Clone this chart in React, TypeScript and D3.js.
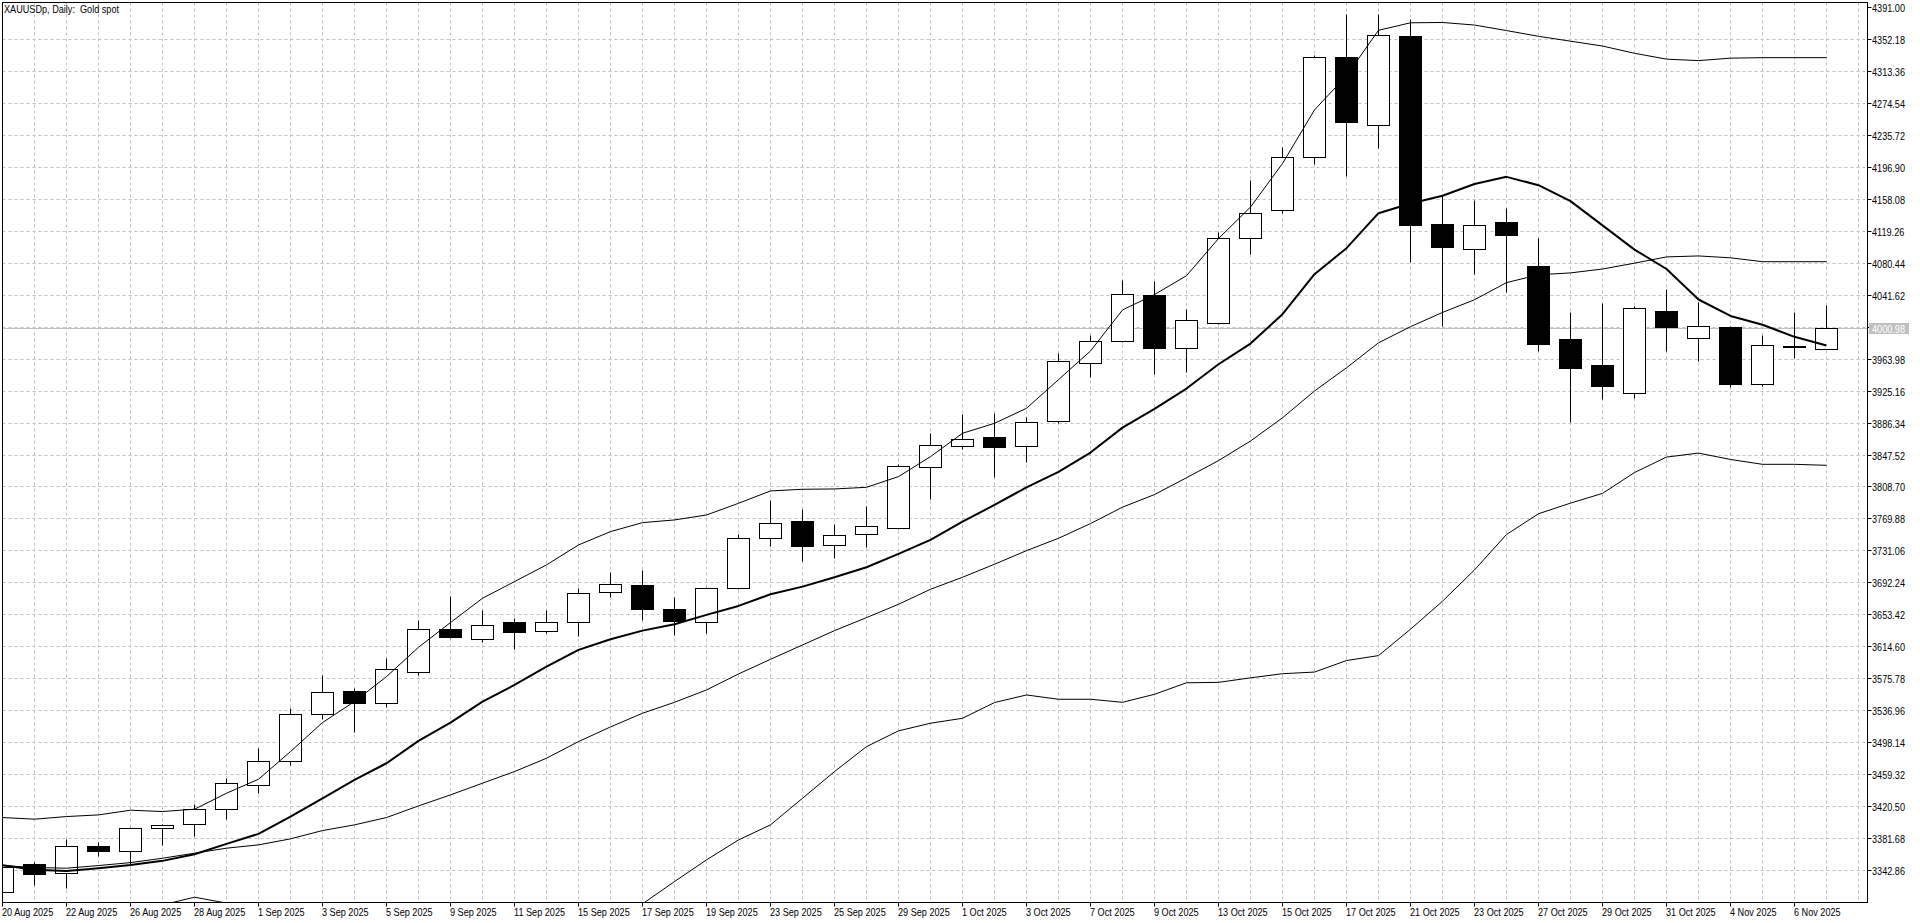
import { line, scaleLinear } from 'd3'

const dates = [
  '20 Aug 2025', '21 Aug 2025', '22 Aug 2025', '25 Aug 2025', '26 Aug 2025', '27 Aug 2025', '28 Aug 2025', '29 Aug 2025',
  '1 Sep 2025', '2 Sep 2025', '3 Sep 2025', '4 Sep 2025', '5 Sep 2025', '8 Sep 2025', '9 Sep 2025', '10 Sep 2025',
  '11 Sep 2025', '12 Sep 2025', '15 Sep 2025', '16 Sep 2025', '17 Sep 2025', '18 Sep 2025', '19 Sep 2025', '22 Sep 2025',
  '23 Sep 2025', '24 Sep 2025', '25 Sep 2025', '26 Sep 2025', '29 Sep 2025', '30 Sep 2025', '1 Oct 2025', '2 Oct 2025',
  '3 Oct 2025', '6 Oct 2025', '7 Oct 2025', '8 Oct 2025', '9 Oct 2025', '10 Oct 2025', '13 Oct 2025', '14 Oct 2025',
  '15 Oct 2025', '16 Oct 2025', '17 Oct 2025', '20 Oct 2025', '21 Oct 2025', '22 Oct 2025', '23 Oct 2025', '24 Oct 2025',
  '27 Oct 2025', '28 Oct 2025', '29 Oct 2025', '30 Oct 2025', '31 Oct 2025', '3 Nov 2025', '4 Nov 2025', '5 Nov 2025',
  '6 Nov 2025', '7 Nov 2025',
]

const opens = [
  3316.7, 3350.7, 3339.8, 3372.6, 3366.1, 3394.4, 3399.3, 3417.5, 3446.6, 3475.8, 3532.8, 3560.3, 3546.2, 3583.8, 3636.0,
  3623.8, 3643.7, 3633.2, 3644.1, 3680.9, 3689.4, 3660.2, 3644.5, 3685.7, 3746.4, 3767.0, 3737.9, 3751.3, 3758.6, 3832.6,
  3858.1, 3869.0, 3858.1, 3888.4, 3959.0, 3985.5, 4041.4, 3977.2, 4007.6, 4110.7, 4144.6, 4209.1, 4329.7, 4247.7, 4356.1,
  4127.7, 4097.3, 4130.2, 4076.3, 3988.0, 3956.2, 3922.7, 4021.5, 3989.2, 4002.7, 3933.3, 3978.8, 3976.2,
]
const highs = [
  3350.5, 3352.8, 3380.3, 3377.4, 3395.0, 3399.5, 3423.6, 3455.1, 3490.7, 3540.1, 3579.3, 3564.4, 3600.8, 3646.9, 3675.6,
  3658.2, 3649.3, 3658.2, 3685.8, 3704.8, 3707.6, 3674.0, 3687.0, 3750.5, 3791.7, 3780.8, 3762.6, 3784.4, 3835.5, 3873.1,
  3896.1, 3898.5, 3892.9, 3970.7, 3992.4, 4059.6, 4058.7, 4023.6, 4118.1, 4181.0, 4220.9, 4332.7, 4381.7, 4382.6, 4376.1,
  4161.5, 4155.9, 4146.3, 4109.8, 4020.4, 4031.0, 4028.0, 4048.0, 4032.1, 4004.0, 3992.1, 4020.4, 4028.6,
]
const lows = [
  3311.0, 3324.8, 3321.6, 3360.0, 3349.9, 3373.4, 3384.3, 3404.6, 3436.1, 3470.5, 3526.8, 3510.6, 3540.9, 3579.3, 3624.3,
  3619.8, 3611.7, 3630.3, 3627.1, 3674.4, 3646.5, 3628.3, 3631.1, 3684.5, 3736.3, 3717.7, 3721.3, 3735.1, 3757.5, 3793.7,
  3853.6, 3820.0, 3838.7, 3885.3, 3941.7, 3984.5, 3944.7, 3948.2, 4005.4, 4090.8, 4140.7, 4199.6, 4185.3, 4219.6, 4081.3,
  4003.2, 4066.1, 4044.4, 3972.7, 3886.8, 3915.0, 3916.2, 3973.3, 3961.5, 3929.2, 3930.3, 3964.5, 3975.1,
]
const closes = [
  3346.7, 3338.6, 3372.6, 3366.5, 3394.4, 3397.7, 3417.5, 3449.1, 3475.8, 3532.8, 3559.5, 3546.2, 3587.4, 3636.0, 3625.9,
  3640.8, 3632.3, 3644.5, 3679.7, 3690.6, 3659.8, 3645.3, 3685.3, 3746.4, 3764.2, 3736.3, 3750.1, 3761.0, 3833.8, 3859.3,
  3866.6, 3856.9, 3887.2, 3961.2, 3985.0, 4042.3, 3977.2, 4011.0, 4110.7, 4141.1, 4208.7, 4329.7, 4251.2, 4357.0, 4125.9,
  4099.9, 4126.4, 4114.2, 3981.5, 3952.7, 3930.9, 4025.7, 4002.1, 4003.3, 3933.3, 3980.4, 3977.6, 4000.98,
]

// Bollinger bands (20) and the thick moving average
const bandUpper = [
  3407.4, 3405.4, 3408.6, 3410.6, 3416.3, 3414.7, 3417.5, 3436.9, 3453.9, 3487.5, 3522.7, 3548.2, 3578.5, 3614.1, 3644.1,
  3673.6, 3693.8, 3714.1, 3738.3, 3754.5, 3765.4, 3768.7, 3774.7, 3788.9, 3803.9, 3805.9, 3806.3, 3808.3, 3821.3, 3845.5,
  3873.9, 3886.0, 3904.2, 3939.0, 3973.8, 4023.6, 4042.3, 4065.2, 4110.3, 4148.5, 4201.4, 4266.5, 4308.0, 4363.1, 4372.2,
  4372.6, 4369.5, 4362.8, 4355.8, 4349.9, 4344.0, 4335.2, 4328.1, 4326.3, 4329.3, 4329.9, 4329.9, 4329.9,
]
const bandMiddle = [
  3349.1, 3346.7, 3345.9, 3349.1, 3352.7, 3358.0, 3364.1, 3370.2, 3374.2, 3381.5, 3391.6, 3398.5, 3407.4, 3421.5, 3434.9,
  3449.1, 3463.2, 3479.4, 3499.6, 3517.4, 3534.0, 3547.3, 3562.3, 3581.7, 3599.5, 3616.9, 3634.3, 3650.1, 3666.3, 3684.5,
  3699.1, 3714.9, 3731.4, 3746.4, 3764.3, 3784.2, 3799.5, 3819.9, 3840.7, 3864.5, 3892.7, 3925.2, 3953.4, 3983.7, 4003.3,
  4020.6, 4036.0, 4056.8, 4066.3, 4068.6, 4073.3, 4080.4, 4088.0, 4089.2, 4086.9, 4082.2, 4082.2, 4082.2,
]
const bandLower = [
  3290.8, 3288.0, 3283.2, 3287.6, 3289.1, 3301.3, 3310.7, 3303.5, 3294.5, 3275.5, 3260.5, 3248.8, 3236.3, 3228.9, 3225.7,
  3224.6, 3232.6, 3244.7, 3260.9, 3280.3, 3302.6, 3329.7, 3356.0, 3380.2, 3398.5, 3430.8, 3463.2, 3493.5, 3512.6, 3521.9,
  3527.9, 3547.0, 3556.2, 3551.0, 3551.0, 3547.3, 3557.0, 3571.0, 3571.5, 3577.0, 3582.0, 3584.0, 3598.0, 3604.0, 3636.0,
  3670.0, 3708.0, 3751.0, 3776.2, 3789.1, 3800.9, 3826.2, 3845.0, 3849.8, 3842.1, 3836.2, 3836.2, 3835.0,
]
const maLine = [
  3349.5, 3343.9, 3342.6, 3345.9, 3349.9, 3354.8, 3362.9, 3375.4, 3387.6, 3408.6, 3430.8, 3453.1, 3473.3, 3500.4, 3522.7,
  3548.2, 3568.4, 3590.7, 3610.9, 3623.8, 3634.3, 3642.0, 3653.4, 3664.3, 3678.4, 3687.7, 3699.1, 3711.2, 3727.4, 3744.4,
  3766.6, 3786.9, 3808.3, 3827.0, 3850.5, 3880.8, 3903.5, 3928.2, 3957.7, 3982.8, 4018.4, 4067.0, 4098.6, 4141.1, 4152.8,
  4162.3, 4176.5, 4185.2, 4175.1, 4155.7, 4126.3, 4096.9, 4073.3, 4036.3, 4016.3, 4005.7, 3991.0, 3980.4,
]

const priceTicks = [
  '4391.00', '4352.18', '4313.36', '4274.54', '4235.72', '4196.90', '4158.08', '4119.26', '4080.44', '4041.62',
  '4002.80', '3963.98', '3925.16', '3886.34', '3847.52', '3808.70', '3769.88', '3731.06', '3692.24', '3653.42',
  '3614.60', '3575.78', '3536.96', '3498.14', '3459.32', '3420.50', '3381.68', '3342.86',
]
const lastPrice = 4000.98

const font = "'Liberation Sans', Arial, sans-serif"

// narrow text, like the terminal's small UI font
function Label({ x, y, fill = '#000000', children }: { x: number; y: number; fill?: string; children: string }) {
  return (
    <text transform={`translate(${x},${y}) scale(0.83,1)`} fill={fill}>
      {children}
    </text>
  )
}

export default function App() {
  const width = 1920
  const height = 923
  const left = 2.5
  const right = 1867.5
  const top = 2.5
  const bottom = 902.5
  const xScale = scaleLinear().domain([0, 58]).range([2.5, 1858.5])
  const yScale = scaleLinear().domain([3342.86, 4352.18]).range([870.7, 39.3])
  const snap = (v: number) => Math.round(v - 0.5) + 0.5
  const path = (values: number[]) =>
    line<number>()
      .x((_, i) => xScale(i))
      .y((v) => yScale(v))(values) ?? ''
  const gridX = Array.from({ length: 58 }, (_, i) => i + 1)
  const lastY = snap(yScale(lastPrice))

  return (
    <div style={{ position: 'fixed', left: 0, top: 0, width, height, background: '#ffffff' }}>
      <svg width={width} height={height} viewBox={`0 0 ${width} ${height}`} fontFamily={font} fontSize="11">
        <defs>
          <clipPath id="plot">
            <rect x={left} y={top} width={right - left} height={bottom - top} />
          </clipPath>
        </defs>
        <rect width={width} height={height} fill="#ffffff" />

        {gridX.map((i) => (
          <line key={`gx${i}`} x1={xScale(i)} x2={xScale(i)} y1={top} y2={bottom} stroke="#c0c0c0" strokeDasharray="3 3" />
        ))}
        {priceTicks.slice(1).map((t) => {
          const y = snap(yScale(Number(t)))
          return <line key={`gy${t}`} x1={left} x2={right} y1={y} y2={y} stroke="#c0c0c0" strokeDasharray="3 3" />
        })}

        <g clipPath="url(#plot)">
          <line x1={left} x2={right} y1={lastY} y2={lastY} stroke="#c0c0c0" />
          {dates.map((d, i) => {
            const cx = xScale(i)
            const o = opens[i]
            const c = closes[i]
            const yTop = snap(yScale(Math.max(o, c)))
            const yBot = snap(yScale(Math.min(o, c)))
            const bear = c < o
            return (
              <g key={d}>
                <line x1={cx} x2={cx} y1={snap(yScale(highs[i]))} y2={snap(yScale(lows[i]))} stroke="#000000" />
                {yBot - yTop < 1 ? (
                  <line x1={cx - 11} x2={cx + 11} y1={yTop} y2={yTop} stroke="#000000" strokeWidth="2" />
                ) : (
                  <rect x={cx - 11} y={yTop} width={22} height={yBot - yTop} fill={bear ? '#000000' : '#ffffff'} stroke="#000000" />
                )}
              </g>
            )
          })}
          <path d={path(bandUpper)} fill="none" stroke="#000000" strokeWidth="1" />
          <path d={path(bandMiddle)} fill="none" stroke="#000000" strokeWidth="1" />
          <path d={path(bandLower)} fill="none" stroke="#000000" strokeWidth="1" />
          <path d={path(maLine)} fill="none" stroke="#000000" strokeWidth="2" strokeLinejoin="round" />
        </g>

        <rect x={left} y={top} width={right - left} height={bottom - top} fill="none" stroke="#000000" />

        {priceTicks.map((t) => {
          const y = snap(yScale(Number(t)))
          return (
            <g key={`pt${t}`}>
              <line x1={right} x2={right + 4} y1={y} y2={y} stroke="#000000" />
              <Label x={1872} y={y + 4}>{t}</Label>
            </g>
          )
        })}
        <rect x={1869} y={lastY - 5.5} width={40} height={11} fill="#c0c0c0" />
        <Label x={1872} y={lastY + 4} fill="#ffffff">{lastPrice.toFixed(2)}</Label>

        {dates.map((d, i) =>
          i % 2 === 0 ? (
            <g key={`dt${d}`}>
              <line x1={xScale(i)} x2={xScale(i)} y1={bottom} y2={bottom + 4} stroke="#000000" />
              <Label x={xScale(i) - 0.5} y={916}>{d}</Label>
            </g>
          ) : null,
        )}

        <Label x={4} y={13}>{'XAUUSDp, Daily:\u00a0 Gold spot'}</Label>
      </svg>
    </div>
  )
}
